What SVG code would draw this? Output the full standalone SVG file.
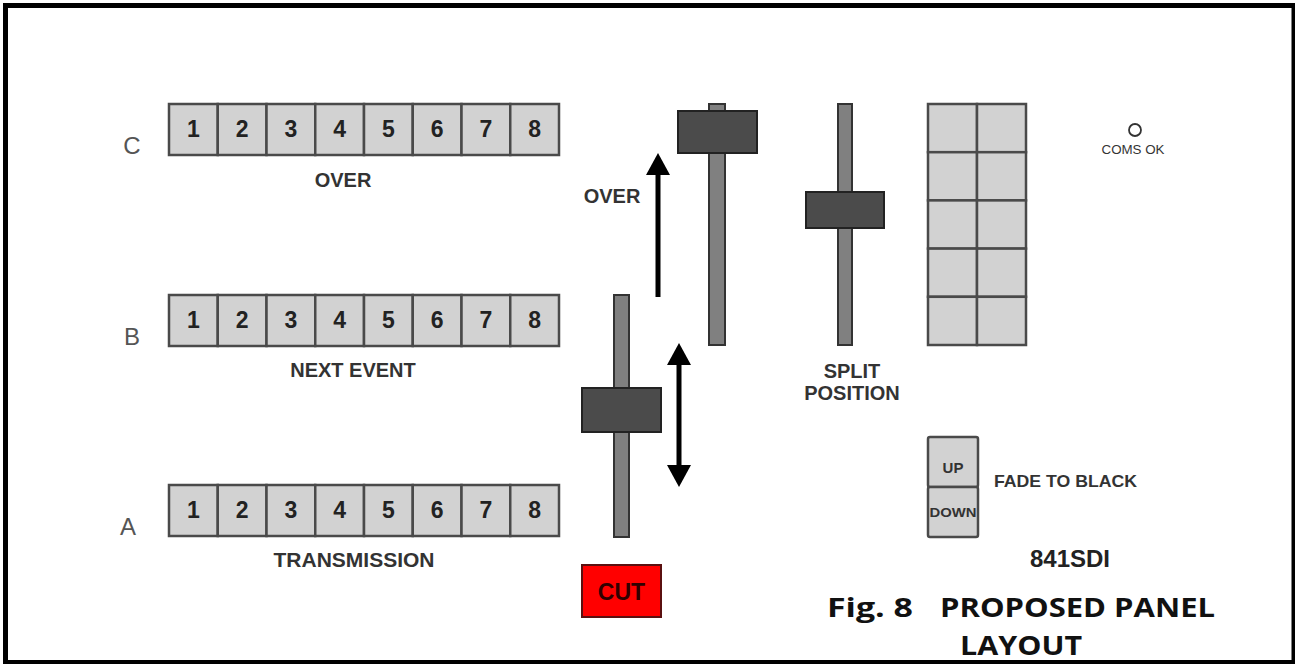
<svg xmlns="http://www.w3.org/2000/svg" width="1295" height="664" viewBox="0 0 1295 664">
<style>
.cell{fill:#d2d2d2;stroke:#4a4a4a;stroke-width:2.5}
.num{font-family:"Liberation Sans",Arial,sans-serif;font-weight:bold;font-size:23px;fill:#222;text-anchor:middle}
.row{font-family:"Liberation Sans",Arial,sans-serif;font-size:24px;fill:#555;text-anchor:middle}
.lbl{font-family:"Liberation Sans",Arial,sans-serif;font-weight:bold;font-size:20px;fill:#333;text-anchor:middle}
.track{fill:#808080;stroke:#333;stroke-width:2}
.knob{fill:#4b4b4b;stroke:#222;stroke-width:2}
.arrow{stroke:#000;stroke-width:5;fill:none}
</style>
<defs>
<marker id="ah" viewBox="0 0 22 24" refX="0" refY="12" markerWidth="22" markerHeight="24" markerUnits="userSpaceOnUse" orient="auto-start-reverse">
<path d="M0,0 L22,12 L0,24 z" fill="#000"/>
</marker>
<g id="strip">
<rect class="cell" x="0" y="0" width="48.75" height="51"/>
<rect class="cell" x="48.75" y="0" width="48.75" height="51"/>
<rect class="cell" x="97.5" y="0" width="48.75" height="51"/>
<rect class="cell" x="146.25" y="0" width="48.75" height="51"/>
<rect class="cell" x="195" y="0" width="48.75" height="51"/>
<rect class="cell" x="243.75" y="0" width="48.75" height="51"/>
<rect class="cell" x="292.5" y="0" width="48.75" height="51"/>
<rect class="cell" x="341.25" y="0" width="48.75" height="51"/>
<text class="num" x="24.4" y="33">1</text>
<text class="num" x="73.1" y="33">2</text>
<text class="num" x="121.9" y="33">3</text>
<text class="num" x="170.6" y="33">4</text>
<text class="num" x="219.4" y="33">5</text>
<text class="num" x="268.1" y="33">6</text>
<text class="num" x="316.9" y="33">7</text>
<text class="num" x="365.6" y="33">8</text>
</g>
</defs>
<rect x="0" y="0" width="1295" height="664" fill="#fff"/>
<path id="frame" fill-rule="evenodd" fill="#000" d="M3,3 H1295 V664 H3 Z M8,8 V660 H1291.5 V8 Z"/>

<g id="rowC">
<text class="row" x="132" y="154">C</text>
<use href="#strip" x="169" y="104"/>
<text class="lbl" x="343" y="187">OVER</text>
</g>
<g id="rowB">
<text class="row" x="132" y="345">B</text>
<use href="#strip" x="169" y="295"/>
<text class="lbl" x="353" y="377">NEXT EVENT</text>
</g>
<g id="rowA">
<text class="row" x="128" y="535">A</text>
<use href="#strip" x="169" y="485"/>
<text class="lbl" x="354" y="567" style="font-size:21px">TRANSMISSION</text>
</g>

<g id="faderAB">
<rect class="track" x="614" y="295" width="15" height="242"/>
<rect class="knob" x="582" y="388" width="79" height="44"/>
</g>
<g id="cut">
<rect x="582" y="565" width="79" height="52" fill="#ff0000" stroke="#5a1010" stroke-width="2"/>
<text x="621.5" y="600" text-anchor="middle" font-family="Liberation Sans, Arial, sans-serif" font-weight="bold" font-size="23" fill="#300000">CUT</text>
</g>
<g id="faderOver">
<rect class="track" x="709" y="104" width="16" height="241"/>
<rect class="knob" x="678" y="111" width="79" height="42"/>
<text class="lbl" x="612" y="203">OVER</text>
</g>
<g id="faderSplit">
<rect class="track" x="838" y="104" width="14" height="241"/>
<rect class="knob" x="806" y="192" width="78" height="36"/>
<text class="lbl" x="852" y="378">SPLIT</text>
<text class="lbl" x="852" y="400">POSITION</text>
</g>

<g id="grid">
<rect class="cell" x="928" y="104" width="49" height="48.2"/>
<rect class="cell" x="977" y="104" width="49" height="48.2"/>
<rect class="cell" x="928" y="152.2" width="49" height="48.2"/>
<rect class="cell" x="977" y="152.2" width="49" height="48.2"/>
<rect class="cell" x="928" y="200.4" width="49" height="48.2"/>
<rect class="cell" x="977" y="200.4" width="49" height="48.2"/>
<rect class="cell" x="928" y="248.6" width="49" height="48.2"/>
<rect class="cell" x="977" y="248.6" width="49" height="48.2"/>
<rect class="cell" x="928" y="296.8" width="49" height="48.2"/>
<rect class="cell" x="977" y="296.8" width="49" height="48.2"/>
</g>

<g id="comsOk">
<circle cx="1135" cy="130" r="6" fill="#fff" stroke="#333" stroke-width="1.8"/>
<text x="1133" y="154" text-anchor="middle" font-family="Liberation Sans, Arial, sans-serif" font-size="12.5" fill="#333" textLength="63" lengthAdjust="spacingAndGlyphs">COMS OK</text>
</g>

<g id="fadeToBlack">
<rect class="cell" x="928" y="437" width="50" height="50" rx="2"/>
<rect class="cell" x="928" y="487" width="50" height="50" rx="2"/>
<text x="953" y="473" text-anchor="middle" font-family="Liberation Sans, Arial, sans-serif" font-weight="bold" font-size="15" fill="#333">UP</text>
<text x="953" y="517" text-anchor="middle" font-family="Liberation Sans, Arial, sans-serif" font-weight="bold" font-size="13" fill="#333" textLength="47" lengthAdjust="spacingAndGlyphs">DOWN</text>
<text x="994" y="487" font-family="Liberation Sans, Arial, sans-serif" font-weight="bold" font-size="16.5" fill="#333" textLength="143" lengthAdjust="spacingAndGlyphs">FADE TO BLACK</text>
</g>

<g id="model">
<text x="1070" y="567" text-anchor="middle" font-family="Liberation Sans, Arial, sans-serif" font-weight="bold" font-size="24" fill="#222">841SDI</text>
</g>

<g id="title" font-family="Open Sans, DejaVu Sans, sans-serif" font-weight="700" font-size="27" fill="#111">
<text y="617"><tspan x="827" textLength="86" lengthAdjust="spacingAndGlyphs">Fig. 8</tspan><tspan x="940" textLength="275" lengthAdjust="spacingAndGlyphs">PROPOSED PANEL</tspan></text>
<text x="960" y="655" textLength="122" lengthAdjust="spacingAndGlyphs">LAYOUT</text>
</g>

<g id="connectors">
<line class="arrow" x1="658" y1="297" x2="658" y2="175" marker-end="url(#ah)"/>
<line class="arrow" x1="679" y1="365" x2="679" y2="465" marker-start="url(#ah)" marker-end="url(#ah)"/>
</g>
</svg>
